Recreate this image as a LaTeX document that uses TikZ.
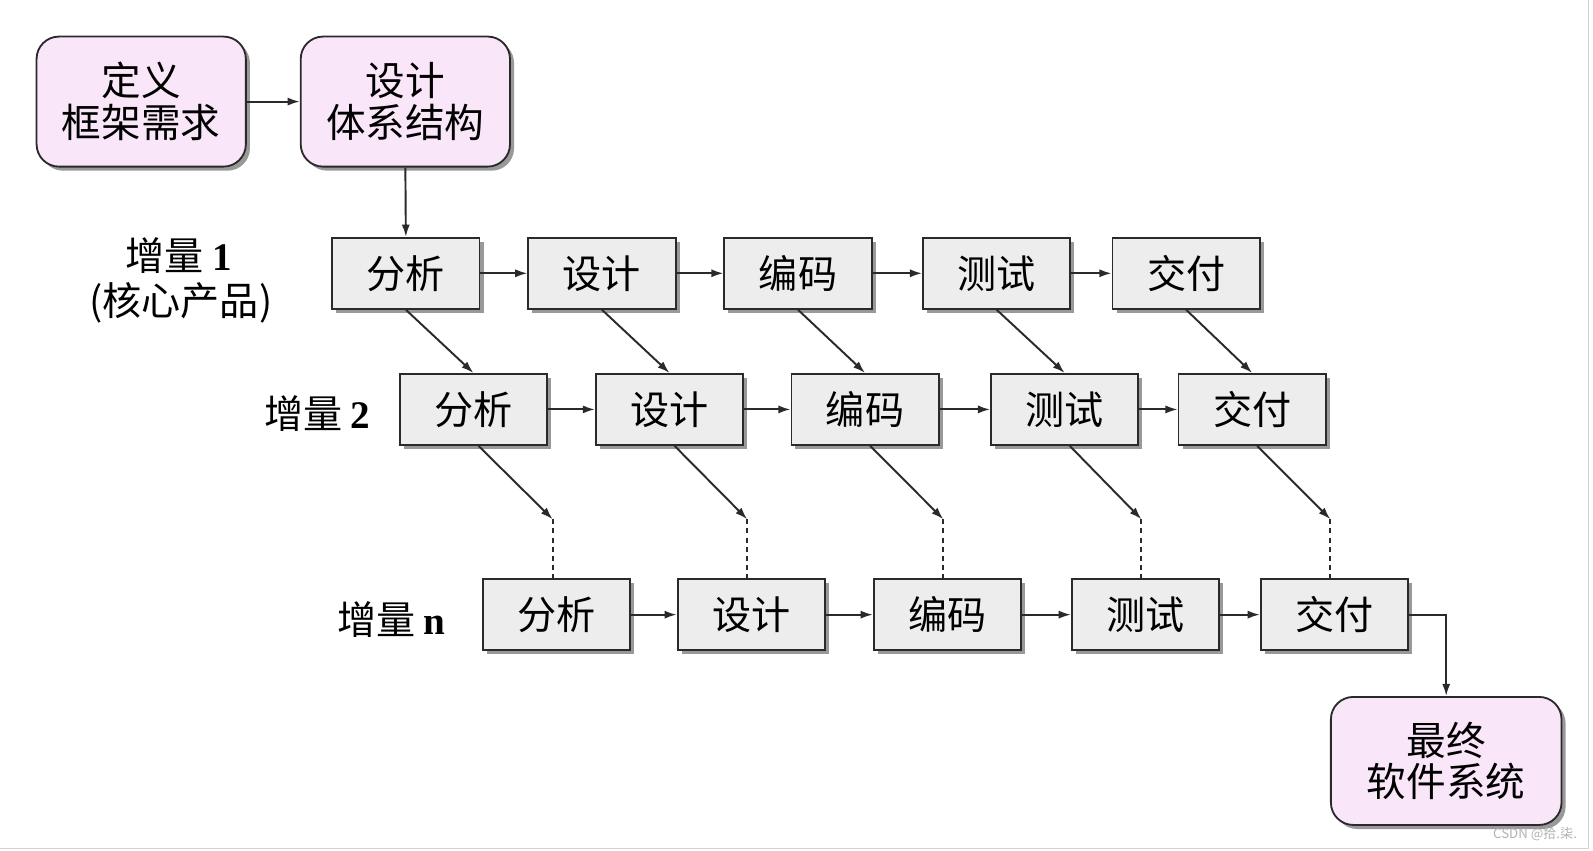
\documentclass[tikz,border=0pt]{standalone}
\usepackage{fontspec}
\newfontfamily\cjk{Noto Sans CJK SC}
\newfontfamily\numfont{Liberation Serif}
\usetikzlibrary{arrows.meta,shadows,calc}
\definecolor{boxgray}{HTML}{EDEDED}
\definecolor{boxpink}{HTML}{F9E6F9}
\definecolor{edgec}{HTML}{2A2A2A}
\tikzset{
  stagebox/.style={draw=edgec, line width=1.8pt, fill=boxgray,
    minimum width=145pt, minimum height=70pt, inner sep=0pt,
    font=\cjk\fontsize{38.5}{41}\selectfont,
    drop shadow={shadow xshift=4pt, shadow yshift=-4pt, fill=black, opacity=0.4}},
  phasebox/.style={draw=edgec, line width=1.8pt, fill=boxpink, rounded corners=22pt,
    minimum width=206pt, minimum height=128pt, inner sep=0pt, align=center,
    font=\cjk\fontsize{39}{41}\selectfont,
    drop shadow={shadow xshift=4pt, shadow yshift=-4pt, fill=black, opacity=0.4}},
  flow/.style={draw=edgec, line width=1.9pt, -{Latex[length=12pt,width=8pt]}},
  dashlink/.style={draw=edgec, line width=1.9pt, dash pattern=on 5pt off 4pt},
  lbl/.style={font=\cjk\fontsize{38.5}{41}\selectfont, align=center, inner sep=0pt},
}
\begin{document}
\begin{tikzpicture}[x=1pt,y=-1pt]
\useasboundingbox[fill=white] (0,0) rectangle (1568,837);
% edge frame
\draw[gray!35, line width=1pt] (1564,0) -- (1564,835) -- (0,835);

% top phase boxes
\node[phasebox] (def) at (139,100) {定义\\框架需求};
\node[phasebox] (arch) at (399,100) {设计\\体系结构};
\node[phasebox, minimum width=227pt, minimum height=126pt] (fin) at (1423.5,749) {最终\\软件系统};

% rows
\foreach \t/\x [count=\i] in {分析/399.5, 设计/592.5, 编码/785.5, 测试/981, 交付/1167.5}
  \node[stagebox] (a\i) at (\x,269) {\t};
\foreach \t/\x [count=\i] in {分析/466, 设计/659, 编码/851.5, 测试/1048, 交付/1232.5}
  \node[stagebox] (b\i) at (\x,403) {\t};
\foreach \t/\x [count=\i] in {分析/548, 设计/739.5, 编码/932.5, 测试/1127.5, 交付/1313.5}
  \node[stagebox] (c\i) at (\x,605) {\t};

% labels
\node[lbl] (l1) at (176,252) {增量\hspace{8pt}{\numfont\bfseries 1}};
\node[lbl] (l1b) at (178,298) {(核心产品)};
\node[lbl] (l2) at (312,407) {增量\hspace{8pt}{\numfont\bfseries 2}};
\node[lbl] (ln) at (385,610) {增量\hspace{8pt}{\numfont\bfseries n}};

% connectors
\draw[flow] (def) -- (arch);
\draw[flow] (arch.south) -- (a1.north);
\foreach \i/\j in {1/2,2/3,3/4,4/5} {
  \draw[flow] (a\i) -- (a\j);
  \draw[flow] (b\i) -- (b\j);
  \draw[flow] (c\i) -- (c\j);
}
\foreach \i in {1,...,5} {
  \draw[flow] (a\i.south) -- (b\i.north);
  \coordinate (m\i) at ($(c\i.north)+(-4,-58)$);
  \draw[flow] ($(b\i.south)+(5,0)$) -- (m\i);
  \draw[dashlink] (m\i) -- (m\i |- c\i.north);
}
\draw[flow] (c5.east) -| (fin.north);

% watermark
\node[font=\cjk\fontsize{13}{13}\selectfont, text=gray!60, inner sep=0pt] (wm) at (1511,821) {CSDN @拾.柒.};
\end{tikzpicture}
\end{document}
